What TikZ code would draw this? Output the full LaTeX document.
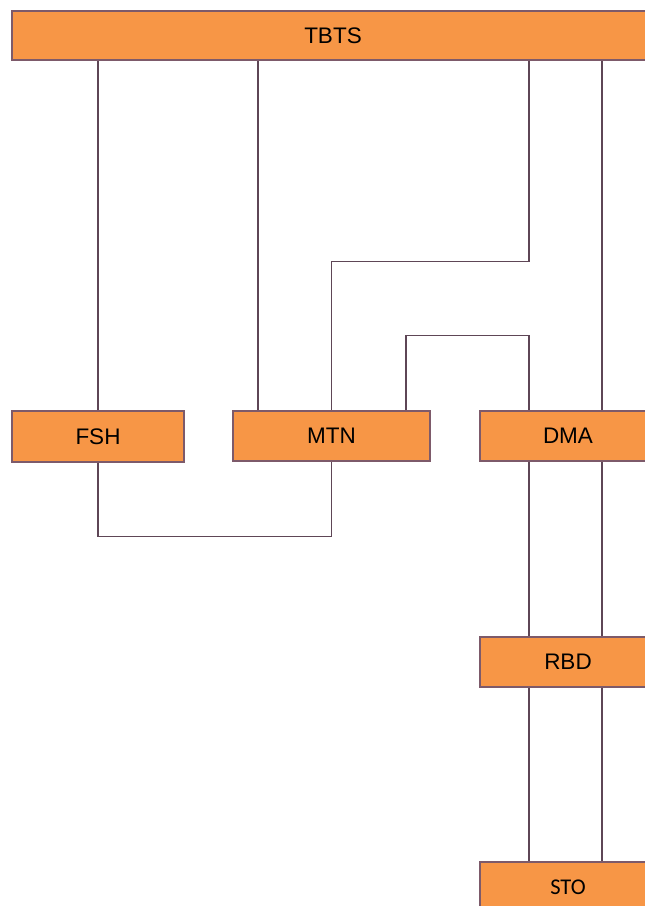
\documentclass[tikz,border=0pt]{standalone}
\usepackage{fontspec}
\setmainfont{Liberation Sans}
\newfontfamily\stofont{Carlito}
\definecolor{boxfill}{HTML}{F79646}
\definecolor{boxline}{HTML}{7D5A6A}
\definecolor{wirecol}{HTML}{5E4656}
\begin{document}
\begin{tikzpicture}[x=1pt,y=-1pt,
  box/.style={draw=boxline, fill=boxfill, line width=1.2pt, minimum height=50pt, inner sep=0pt, font=\fontsize{22.5}{26}\selectfont},
  wire/.style={draw=wirecol, line width=1.3pt}]
\useasboundingbox (0,0) rectangle (645,906);
\clip (0,0) rectangle (645,906);
\node[box, minimum width=642pt, minimum height=49pt] (TBTS) at (333,35.5) {TBTS};
\node[box, minimum width=172pt, minimum height=51pt] (FSH) at (98,436.5) {FSH};
\node[box, minimum width=197pt] (MTN) at (331.5,436) {MTN};
\node[box, minimum width=176pt] (DMA) at (568,436) {DMA};
\node[box, minimum width=176pt] (RBD) at (568,662) {RBD};
\node[box, minimum width=176pt, font=\stofont\fontsize{22.5}{26}\selectfont] (STO) at (568,887) {STO};
\coordinate (m1) at ([xshift=-73.5pt]MTN.north);
\coordinate (m2) at ([xshift=74.5pt]MTN.north);
\coordinate (d1) at ([xshift=-39pt]DMA.north);
\coordinate (d2) at ([xshift=34pt]DMA.north);
\draw[wire] (FSH.north) -- (FSH.north |- TBTS.south);
\draw[wire] (m1) -- (m1 |- TBTS.south);
\draw[wire] (d2) -- (d2 |- TBTS.south);
\draw[wire] (d1 |- TBTS.south) -- ++(0,201) -| (MTN.north);
\draw[wire] (m2) -- ++(0,-75) -| (d1);
\draw[wire] (FSH.south) -- ++(0,74) -| (MTN.south);
\draw[wire] ([xshift=-39pt]DMA.south) -- ([xshift=-39pt]RBD.north);
\draw[wire] ([xshift=34pt]DMA.south) -- ([xshift=34pt]RBD.north);
\draw[wire] ([xshift=-39pt]RBD.south) -- ([xshift=-39pt]STO.north);
\draw[wire] ([xshift=34pt]RBD.south) -- ([xshift=34pt]STO.north);
\end{tikzpicture}
\end{document}
